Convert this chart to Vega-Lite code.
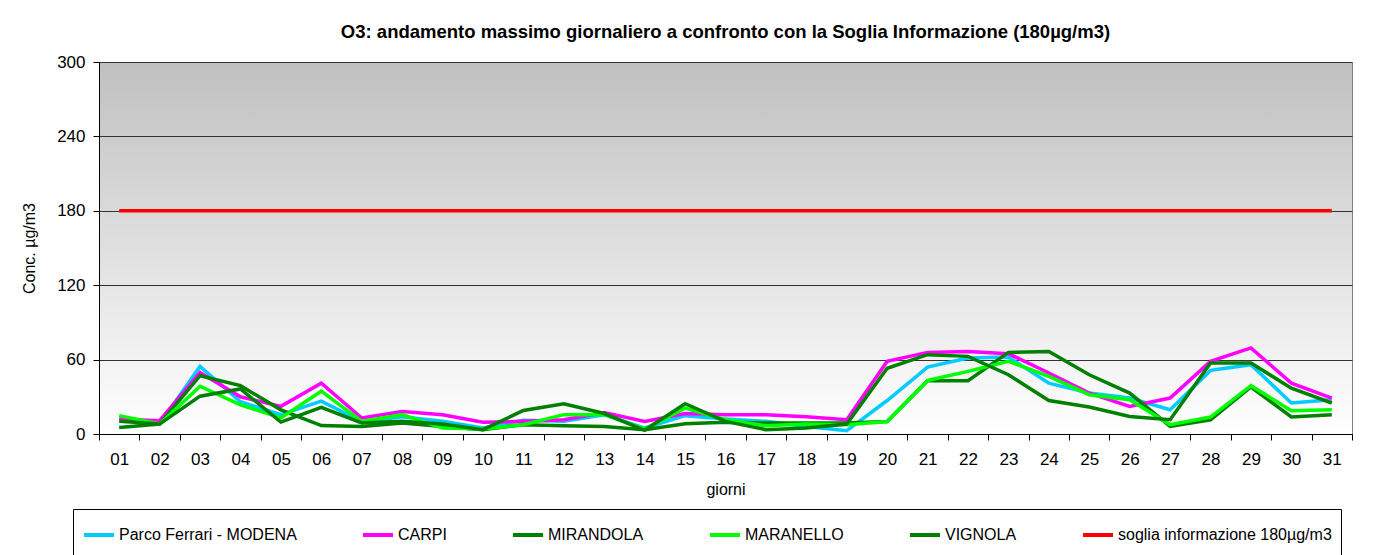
{
  "$schema": "https://vega.github.io/schema/vega-lite/v6.json",
  "width": 1253,
  "height": 372,
  "padding": {"left": 21, "top": 22, "right": 0, "bottom": 0},
  "background": "white",
  "title": {
    "text": "O3: andamento massimo giornaliero a confronto con la Soglia Informazione (180µg/m3)",
    "font": "Liberation Sans",
    "fontSize": 18.5,
    "fontWeight": "bold",
    "anchor": "middle",
    "offset": 12,
    "color": "black"
  },
  "config": {
    "font": "Liberation Sans",
    "view": {
      "stroke": "#808080",
      "fill": {
        "gradient": "linear",
        "x1": 0, "y1": 0, "x2": 0, "y2": 1,
        "stops": [
          {"offset": 0, "color": "#c0c0c0"},
          {"offset": 1, "color": "#ffffff"}
        ]
      }
    }
  },
  "datasets": {
    "o3": [
      {"d":"01","s":"Parco Ferrari - MODENA","v":12},{"d":"02","s":"Parco Ferrari - MODENA","v":8},{"d":"03","s":"Parco Ferrari - MODENA","v":54.5},{"d":"04","s":"Parco Ferrari - MODENA","v":26},{"d":"05","s":"Parco Ferrari - MODENA","v":15.5},{"d":"06","s":"Parco Ferrari - MODENA","v":26.5},{"d":"07","s":"Parco Ferrari - MODENA","v":10},{"d":"08","s":"Parco Ferrari - MODENA","v":13.9},{"d":"09","s":"Parco Ferrari - MODENA","v":10.2},{"d":"10","s":"Parco Ferrari - MODENA","v":4.8},{"d":"11","s":"Parco Ferrari - MODENA","v":11},{"d":"12","s":"Parco Ferrari - MODENA","v":10.2},{"d":"13","s":"Parco Ferrari - MODENA","v":15.6},{"d":"14","s":"Parco Ferrari - MODENA","v":4.8},{"d":"15","s":"Parco Ferrari - MODENA","v":14.8},{"d":"16","s":"Parco Ferrari - MODENA","v":12},{"d":"17","s":"Parco Ferrari - MODENA","v":10.2},{"d":"18","s":"Parco Ferrari - MODENA","v":6},{"d":"19","s":"Parco Ferrari - MODENA","v":2.7},{"d":"20","s":"Parco Ferrari - MODENA","v":27},{"d":"21","s":"Parco Ferrari - MODENA","v":54},{"d":"22","s":"Parco Ferrari - MODENA","v":61.3},{"d":"23","s":"Parco Ferrari - MODENA","v":62},{"d":"24","s":"Parco Ferrari - MODENA","v":41},{"d":"25","s":"Parco Ferrari - MODENA","v":33},{"d":"26","s":"Parco Ferrari - MODENA","v":29},{"d":"27","s":"Parco Ferrari - MODENA","v":19.6},{"d":"28","s":"Parco Ferrari - MODENA","v":51.3},{"d":"29","s":"Parco Ferrari - MODENA","v":55.9},{"d":"30","s":"Parco Ferrari - MODENA","v":25},{"d":"31","s":"Parco Ferrari - MODENA","v":27.7},
      {"d":"01","s":"CARPI","v":12},{"d":"02","s":"CARPI","v":10.7},{"d":"03","s":"CARPI","v":49.5},{"d":"04","s":"CARPI","v":30},{"d":"05","s":"CARPI","v":22.3},{"d":"06","s":"CARPI","v":41},{"d":"07","s":"CARPI","v":12.9},{"d":"08","s":"CARPI","v":18.2},{"d":"09","s":"CARPI","v":15.6},{"d":"10","s":"CARPI","v":9.4},{"d":"11","s":"CARPI","v":10.2},{"d":"12","s":"CARPI","v":11.5},{"d":"13","s":"CARPI","v":17.4},{"d":"14","s":"CARPI","v":10.2},{"d":"15","s":"CARPI","v":16.5},{"d":"16","s":"CARPI","v":15.6},{"d":"17","s":"CARPI","v":15.6},{"d":"18","s":"CARPI","v":14},{"d":"19","s":"CARPI","v":11.5},{"d":"20","s":"CARPI","v":58.6},{"d":"21","s":"CARPI","v":65.8},{"d":"22","s":"CARPI","v":66.6},{"d":"23","s":"CARPI","v":64.8},{"d":"24","s":"CARPI","v":49.2},{"d":"25","s":"CARPI","v":33},{"d":"26","s":"CARPI","v":22.3},{"d":"27","s":"CARPI","v":29},{"d":"28","s":"CARPI","v":58.6},{"d":"29","s":"CARPI","v":69.4},{"d":"30","s":"CARPI","v":41},{"d":"31","s":"CARPI","v":29},
      {"d":"01","s":"MIRANDOLA","v":5.3},{"d":"02","s":"MIRANDOLA","v":8},{"d":"03","s":"MIRANDOLA","v":47},{"d":"04","s":"MIRANDOLA","v":39},{"d":"05","s":"MIRANDOLA","v":19.5},{"d":"06","s":"MIRANDOLA","v":6.8},{"d":"07","s":"MIRANDOLA","v":6.1},{"d":"08","s":"MIRANDOLA","v":8.9},{"d":"09","s":"MIRANDOLA","v":6.1},{"d":"10","s":"MIRANDOLA","v":3.5},{"d":"11","s":"MIRANDOLA","v":7.5},{"d":"12","s":"MIRANDOLA","v":6.7},{"d":"13","s":"MIRANDOLA","v":6.1},{"d":"14","s":"MIRANDOLA","v":3.5},{"d":"15","s":"MIRANDOLA","v":8.3},{"d":"16","s":"MIRANDOLA","v":9.4},{"d":"17","s":"MIRANDOLA","v":8.9},{"d":"18","s":"MIRANDOLA","v":8.9},{"d":"19","s":"MIRANDOLA","v":8.9},{"d":"20","s":"MIRANDOLA","v":10},{"d":"21","s":"MIRANDOLA","v":43},{"d":"22","s":"MIRANDOLA","v":43},{"d":"23","s":"MIRANDOLA","v":65.8},{"d":"24","s":"MIRANDOLA","v":66.6},{"d":"25","s":"MIRANDOLA","v":47.8},{"d":"26","s":"MIRANDOLA","v":33},{"d":"27","s":"MIRANDOLA","v":6.1},{"d":"28","s":"MIRANDOLA","v":11.5},{"d":"29","s":"MIRANDOLA","v":37.9},{"d":"30","s":"MIRANDOLA","v":13.7},{"d":"31","s":"MIRANDOLA","v":15.6},
      {"d":"01","s":"MARANELLO","v":14.8},{"d":"02","s":"MARANELLO","v":8},{"d":"03","s":"MARANELLO","v":38.5},{"d":"04","s":"MARANELLO","v":23.5},{"d":"05","s":"MARANELLO","v":13},{"d":"06","s":"MARANELLO","v":34.5},{"d":"07","s":"MARANELLO","v":10.2},{"d":"08","s":"MARANELLO","v":15.6},{"d":"09","s":"MARANELLO","v":4.8},{"d":"10","s":"MARANELLO","v":4},{"d":"11","s":"MARANELLO","v":7.5},{"d":"12","s":"MARANELLO","v":15.6},{"d":"13","s":"MARANELLO","v":15.6},{"d":"14","s":"MARANELLO","v":4},{"d":"15","s":"MARANELLO","v":20.9},{"d":"16","s":"MARANELLO","v":11.5},{"d":"17","s":"MARANELLO","v":6.7},{"d":"18","s":"MARANELLO","v":8},{"d":"19","s":"MARANELLO","v":7.5},{"d":"20","s":"MARANELLO","v":10},{"d":"21","s":"MARANELLO","v":43.2},{"d":"22","s":"MARANELLO","v":50.5},{"d":"23","s":"MARANELLO","v":58.6},{"d":"24","s":"MARANELLO","v":46.5},{"d":"25","s":"MARANELLO","v":31.7},{"d":"26","s":"MARANELLO","v":27.7},{"d":"27","s":"MARANELLO","v":7.5},{"d":"28","s":"MARANELLO","v":13.7},{"d":"29","s":"MARANELLO","v":39},{"d":"30","s":"MARANELLO","v":18.8},{"d":"31","s":"MARANELLO","v":19.6},
      {"d":"01","s":"VIGNOLA","v":10.2},{"d":"02","s":"VIGNOLA","v":8},{"d":"03","s":"VIGNOLA","v":30.5},{"d":"04","s":"VIGNOLA","v":36.3},{"d":"05","s":"VIGNOLA","v":9.6},{"d":"06","s":"VIGNOLA","v":21.5},{"d":"07","s":"VIGNOLA","v":8.9},{"d":"08","s":"VIGNOLA","v":10.2},{"d":"09","s":"VIGNOLA","v":8},{"d":"10","s":"VIGNOLA","v":3.5},{"d":"11","s":"VIGNOLA","v":19},{"d":"12","s":"VIGNOLA","v":24.4},{"d":"13","s":"VIGNOLA","v":16.5},{"d":"14","s":"VIGNOLA","v":3},{"d":"15","s":"VIGNOLA","v":24.4},{"d":"16","s":"VIGNOLA","v":10.2},{"d":"17","s":"VIGNOLA","v":3.5},{"d":"18","s":"VIGNOLA","v":4.8},{"d":"19","s":"VIGNOLA","v":8},{"d":"20","s":"VIGNOLA","v":53},{"d":"21","s":"VIGNOLA","v":64},{"d":"22","s":"VIGNOLA","v":62.6},{"d":"23","s":"VIGNOLA","v":47.8},{"d":"24","s":"VIGNOLA","v":27},{"d":"25","s":"VIGNOLA","v":21.8},{"d":"26","s":"VIGNOLA","v":14.2},{"d":"27","s":"VIGNOLA","v":11.5},{"d":"28","s":"VIGNOLA","v":57.2},{"d":"29","s":"VIGNOLA","v":57.2},{"d":"30","s":"VIGNOLA","v":37},{"d":"31","s":"VIGNOLA","v":25},
      {"d":"01","s":"soglia informazione 180µg/m3","v":180},{"d":"02","s":"soglia informazione 180µg/m3","v":180},{"d":"03","s":"soglia informazione 180µg/m3","v":180},{"d":"04","s":"soglia informazione 180µg/m3","v":180},{"d":"05","s":"soglia informazione 180µg/m3","v":180},{"d":"06","s":"soglia informazione 180µg/m3","v":180},{"d":"07","s":"soglia informazione 180µg/m3","v":180},{"d":"08","s":"soglia informazione 180µg/m3","v":180},{"d":"09","s":"soglia informazione 180µg/m3","v":180},{"d":"10","s":"soglia informazione 180µg/m3","v":180},{"d":"11","s":"soglia informazione 180µg/m3","v":180},{"d":"12","s":"soglia informazione 180µg/m3","v":180},{"d":"13","s":"soglia informazione 180µg/m3","v":180},{"d":"14","s":"soglia informazione 180µg/m3","v":180},{"d":"15","s":"soglia informazione 180µg/m3","v":180},{"d":"16","s":"soglia informazione 180µg/m3","v":180},{"d":"17","s":"soglia informazione 180µg/m3","v":180},{"d":"18","s":"soglia informazione 180µg/m3","v":180},{"d":"19","s":"soglia informazione 180µg/m3","v":180},{"d":"20","s":"soglia informazione 180µg/m3","v":180},{"d":"21","s":"soglia informazione 180µg/m3","v":180},{"d":"22","s":"soglia informazione 180µg/m3","v":180},{"d":"23","s":"soglia informazione 180µg/m3","v":180},{"d":"24","s":"soglia informazione 180µg/m3","v":180},{"d":"25","s":"soglia informazione 180µg/m3","v":180},{"d":"26","s":"soglia informazione 180µg/m3","v":180},{"d":"27","s":"soglia informazione 180µg/m3","v":180},{"d":"28","s":"soglia informazione 180µg/m3","v":180},{"d":"29","s":"soglia informazione 180µg/m3","v":180},{"d":"30","s":"soglia informazione 180µg/m3","v":180},{"d":"31","s":"soglia informazione 180µg/m3","v":180}
    ]
  },
  "data": {"name": "o3"},
  "mark": {"type": "line", "strokeWidth": 3.5},
  "encoding": {
    "x": {
      "field": "d",
      "type": "ordinal",
      "scale": {"type": "band", "paddingInner": 0, "paddingOuter": 0},
      "axis": {
        "title": "giorni",
        "labelAngle": 0,
        "tickBand": "extent",
        "tickSize": 6,
        "tickColor": "black",
        "domainColor": "black",
        "labelColor": "black",
        "titleColor": "black",
        "labelFontSize": 17,
        "titleFontSize": 16,
        "titleFontWeight": "normal",
        "labelPadding": 11,
        "titlePadding": 14,
        "grid": false
      }
    },
    "y": {
      "field": "v",
      "type": "quantitative",
      "scale": {"domain": [0, 300]},
      "axis": {
        "title": "Conc. µg/m3",
        "values": [0, 60, 120, 180, 240, 300],
        "grid": true,
        "gridColor": "#333333",
        "gridOpacity": 1,
        "tickSize": 6,
        "tickColor": "black",
        "domainColor": "black",
        "labelColor": "black",
        "titleColor": "black",
        "labelFontSize": 17,
        "titleFontSize": 16,
        "titleFontWeight": "normal",
        "labelPadding": 8,
        "titlePadding": 19
      }
    },
    "color": {
      "field": "s",
      "type": "nominal",
      "scale": {
        "domain": ["Parco Ferrari - MODENA", "CARPI", "MIRANDOLA", "MARANELLO", "VIGNOLA", "soglia informazione 180µg/m3"],
        "range": ["#00ccff", "#ff00ff", "#008000", "#00ff00", "#008000", "#ff0000"]
      },
      "legend": {
        "title": " ",
        "titleOrient": "bottom",
        "titleFontSize": 10,
        "titlePadding": 6,
        "orient": "none",
        "legendX": -26,
        "legendY": 447,
        "direction": "horizontal",
        "columns": 6,
        "symbolType": "stroke",
        "symbolSize": 900,
        "symbolStrokeWidth": 4,
        "labelFontSize": 16,
        "labelColor": "black",
        "labelOffset": 3,
        "labelLimit": 0,
        "columnPadding": 58,
        "padding": 9,
        "strokeColor": "black"
      }
    }
  }
}
